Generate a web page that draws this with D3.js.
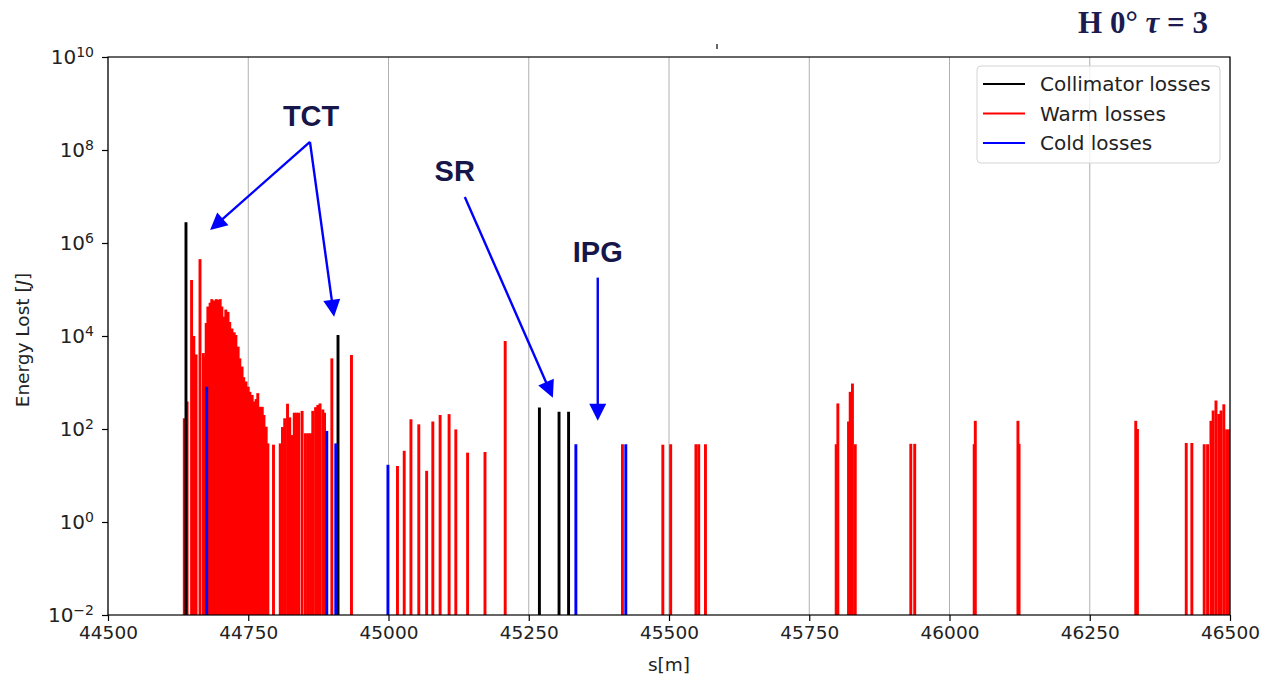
<!DOCTYPE html>
<html><head><meta charset="utf-8">
<script src="https://cdn.jsdelivr.net/npm/d3@7"></script>
<style>
body{margin:0;background:#fff}
svg{display:block}
</style>
</head><body>
<svg id="c" width="1264" height="677"></svg>
<script>
// ---------------- data ----------------
const xTicks = [44500, 44750, 45000, 45250, 45500, 45750, 46000, 46250, 46500];
const yTickExps = [-2, 0, 2, 4, 6, 8, 10];
const seriesNames = ["Collimator losses", "Warm losses", "Cold losses"];
const seriesColors = ["#000000", "#ff0000", "#0000ff"];

const warmS = [44636, 44641, 44649, 44653, 44657, 44664, 44670, 44673, 44675, 44678,
  44682, 44685, 44689, 44693, 44696, 44700, 44703, 44707, 44710, 44714,
  44717, 44721, 44725, 44728, 44732, 44735, 44739, 44742, 44746, 44750,
  44753, 44757, 44760, 44764, 44767, 44771, 44775, 44778, 44782, 44785,
  44795, 44807, 44811, 44815, 44820, 44824, 44828, 44832, 44836, 44840,
  44846, 44852, 44857, 44861, 44865, 44870, 44874, 44878, 44883, 44886,
  44899, 44934,
  45016, 45028, 45040, 45054, 45068, 45079, 45092, 45108, 45120, 45141,
  45172, 45208, 45417, 45489, 45503, 45548, 45553, 45565,
  45798, 45801, 45820, 45823, 45827, 45832, 45931, 45938,
  46044, 46046, 46122, 46124, 46332, 46335,
  46422, 46432, 46454, 46460, 46466, 46470, 46475, 46480, 46484, 46489, 46494, 46498];
const warmE = [170, 390, 1.6e5, 1.0e4, 4000, 4.5e5, 4300, 3600, 1.9e4, 4.3e4,
  5.2e4, 6.2e4, 5.8e4, 6.2e4, 6.0e4, 6.2e4, 4.3e4, 2.6e4, 3.7e4, 3.3e4,
  2.0e4, 1.45e4, 1.2e4, 1.05e4, 5900, 3300, 2200, 1300, 1050, 810,
  630, 540, 390, 440, 590, 300, 300, 200, 112, 49,
  46, 49, 110, 170, 350, 178, 74, 224, 224, 224,
  245, 81, 81, 81, 245, 295, 330, 355, 263, 224,
  3300, 3900,
  16, 34, 162, 126, 12.6, 145, 200, 209, 98, 31,
  32, 7800, 47, 46, 47, 47, 47, 47,
  47, 355, 145, 630, 950, 47, 48, 48,
  47, 150, 150, 48, 150, 100,
  50, 50, 47, 47, 150, 250, 410, 210, 250, 340, 98, 98];

const collS = [44639, 44910, 45269, 45304, 45321];
const collE = [2.8e6, 1.05e4, 290, 235, 235];

const coldS = [44676, 44890, 44906, 44999, 45334, 45423];
const coldE = [810, 91, 49, 17, 47, 47];

// annotations (data coordinates: s, energy)
const annLabels = ["TCT", "SR", "IPG"];
const annTextPos = [[44862, 3.3e8], [45118, 2.2e7], [45373, 4.0e5]];
const annArrows = [
  [[44860, 1.5e8], [44682, 1.9e6]],
  [[44860, 1.5e8], [44903, 2.6e4]],
  [[45136, 9.8e6], [45293, 470]],
  [[45373, 1.8e5], [45373, 150]]
];

// ---------------- drawing ----------------
const SANS = "'DejaVu Sans', sans-serif";
const svg = d3.select("#c");
const L = 108, R = 1230, T = 57, B = 615;
const x = d3.scaleLinear().domain([44500, 46500]).range([L, R]);
const y = d3.scaleLog().domain([1e-2, 1e10]).range([B, T]);
const halfW = 2.6; // half bar width in metres

// grid
svg.append("g").selectAll("line").data(xTicks).join("line")
  .attr("x1", d => x(d)).attr("x2", d => x(d))
  .attr("y1", T).attr("y2", B)
  .attr("stroke", "#b0b0b0").attr("stroke-width", 1);

svg.append("defs").append("clipPath").attr("id", "clip")
  .append("rect").attr("x", L).attr("y", T).attr("width", R - L).attr("height", B - T);

const plot = svg.append("g").attr("clip-path", "url(#clip)");
function bars(sArr, eArr, color) {
  const data = sArr.map((s, i) => ({s, e: eArr[i]}));
  plot.append("g").selectAll("rect").data(data).join("rect")
    .attr("x", d => x(d.s - halfW))
    .attr("width", d => x(d.s + halfW) - x(d.s - halfW))
    .attr("y", d => y(d.e))
    .attr("height", d => y(1e-2) - y(d.e))
    .attr("fill", color);
}
bars(warmS, warmE, seriesColors[1]);
bars(collS, collE, seriesColors[0]);
bars(coldS, coldE, seriesColors[2]);

// axes
const xAxis = svg.append("g").attr("transform", `translate(0,${B})`)
  .call(d3.axisBottom(x).tickValues(xTicks).tickFormat(d3.format("d")).tickSize(6).tickPadding(5));
xAxis.select(".domain").remove();
xAxis.selectAll(".tick line").attr("stroke", "#000").attr("stroke-width", 1.2);
xAxis.selectAll(".tick text").style("font-size", "18.5px").style("font-family", SANS).attr("fill", "#222");

const yAxis = svg.append("g").attr("transform", `translate(${L},0)`)
  .call(d3.axisLeft(y).tickValues(yTickExps.map(e => Math.pow(10, e))).tickSize(6).tickPadding(8).tickFormat(() => ""));
yAxis.select(".domain").remove();
yAxis.selectAll(".tick line").attr("stroke", "#000").attr("stroke-width", 1.2);
yAxis.selectAll(".tick text").each(function(d, i) {
  const t = d3.select(this).style("font-size", "20px").style("font-family", SANS).attr("fill", "#222");
  const ex = yTickExps[i];
  t.append("tspan").text("10");
  t.append("tspan").attr("dy", "-0.5em").style("font-size", "14px").text(ex < 0 ? "\u2212" + (-ex) : String(ex));
});

// frame
svg.append("rect").attr("x", L).attr("y", T).attr("width", R - L).attr("height", B - T)
  .attr("fill", "none").attr("stroke", "#000").attr("stroke-width", 1.2);

// axis labels
svg.append("text").attr("x", (L + R) / 2).attr("y", 671).attr("text-anchor", "middle")
  .style("font-size", "18.5px").style("font-family", SANS).attr("fill", "#222").text("s[m]");
const yl = svg.append("text").attr("transform", `translate(29,${(T + B) / 2 + 4}) rotate(-90)`)
  .attr("text-anchor", "middle").style("font-size", "18.5px").style("font-family", SANS).attr("fill", "#222");
yl.append("tspan").text("Energy Lost [");
yl.append("tspan").style("font-style", "italic").text("J");
yl.append("tspan").text("]");

// small mark at top
svg.append("line").attr("x1", 717).attr("x2", 717).attr("y1", 44).attr("y2", 49)
  .attr("stroke", "#333").attr("stroke-width", 1.5);

// legend
const lg = svg.append("g").attr("transform", "translate(977,66)");
lg.append("rect").attr("width", 243).attr("height", 97).attr("rx", 4)
  .attr("fill", "#fff").attr("fill-opacity", 0.8).attr("stroke", "#d4d4d4").attr("stroke-width", 1);
seriesNames.forEach((n, i) => {
  const yy = 18 + i * 29.5;
  lg.append("line").attr("x1", 6).attr("x2", 48).attr("y1", yy).attr("y2", yy)
    .attr("stroke", seriesColors[i]).attr("stroke-width", 2);
  lg.append("text").attr("x", 63).attr("y", yy + 7).style("font-size", "20px").style("font-family", SANS)
    .attr("fill", "#222").text(n);
});

// title
const tt = svg.append("text").attr("x", 1208).attr("y", 33).attr("text-anchor", "end")
  .style("font-family", "'Liberation Serif', 'DejaVu Serif', serif").style("font-weight", "bold")
  .style("font-size", "31px").attr("fill", "#1b1b50");
tt.append("tspan").text("H 0° ");
tt.append("tspan").style("font-style", "italic").text("τ");
tt.append("tspan").text(" = 3");

// annotations
const navy = "#16164a";
annLabels.forEach((lab, i) => {
  svg.append("text").attr("x", x(annTextPos[i][0])).attr("y", y(annTextPos[i][1]))
    .attr("text-anchor", "middle").style("font-family", "'Liberation Sans', Arial, sans-serif")
    .style("font-weight", "bold").style("font-size", "29px").attr("fill", navy).text(lab);
});
const ag = svg.append("g");
annArrows.forEach(([p0, p1]) => {
  const x0 = x(p0[0]), y0 = y(p0[1]), x1 = x(p1[0]), y1 = y(p1[1]);
  const dx = x1 - x0, dy = y1 - y0, len = Math.hypot(dx, dy);
  const ux = dx / len, uy = dy / len;
  const hl = 17, hw = 8.5;
  const bx = x1 - ux * hl, by = y1 - uy * hl;
  ag.append("line").attr("x1", x0).attr("y1", y0).attr("x2", bx + ux * 2).attr("y2", by + uy * 2)
    .attr("stroke", "#0000ff").attr("stroke-width", 2.4);
  ag.append("polygon")
    .attr("points", [[x1, y1], [bx - uy * hw, by + ux * hw], [bx + uy * hw, by - ux * hw]].map(p => p.join(",")).join(" "))
    .attr("fill", "#0000ff");
});
</script>
</body></html>
